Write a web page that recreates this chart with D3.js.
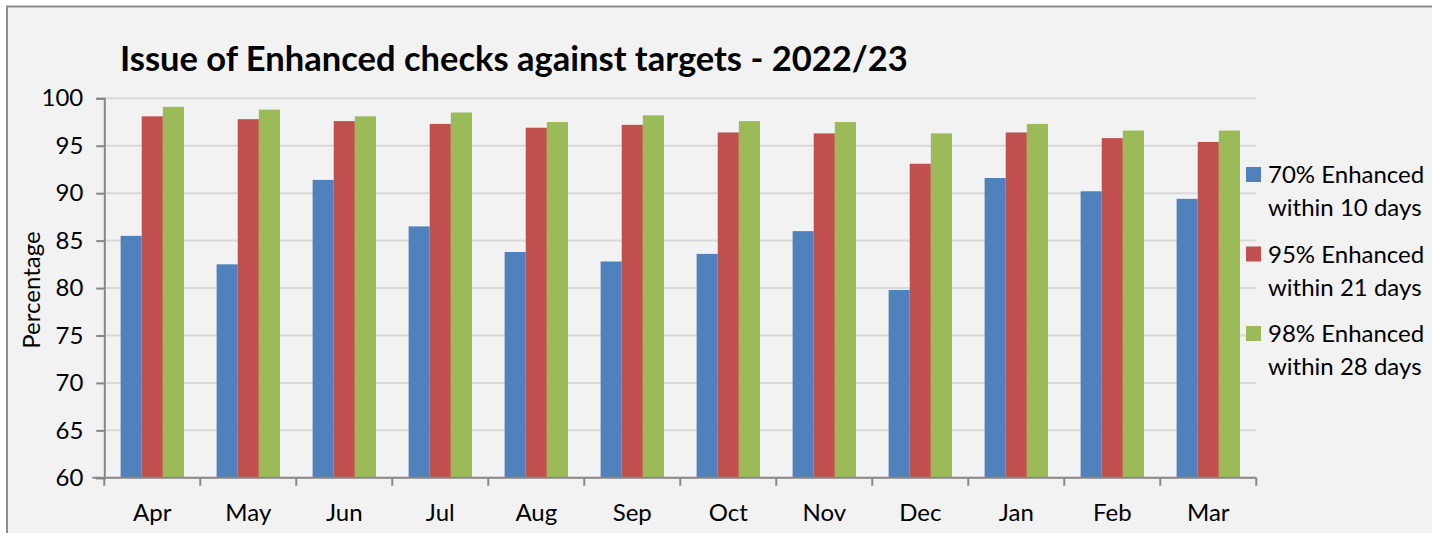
<!DOCTYPE html>
<html>
<head>
<meta charset="utf-8">
<script src="https://cdn.jsdelivr.net/npm/d3@7"></script>
<style>
  html, body { margin: 0; background: #ffffff; overflow: hidden; }
  svg { display: block; font-family: Lato, "Open Sans", sans-serif; }
</style>
</head>
<body>
<svg id="chart" width="1432" height="533"></svg>
<script>
// Chart data
const months = ["Apr", "May", "Jun", "Jul", "Aug", "Sep", "Oct", "Nov", "Dec", "Jan", "Feb", "Mar"];
const within10 = [85.5, 82.5, 91.4, 86.5, 83.8, 82.8, 83.6, 86.0, 79.8, 91.6, 90.2, 89.4];
const within21 = [98.1, 97.8, 97.6, 97.3, 96.9, 97.2, 96.4, 96.3, 93.1, 96.4, 95.8, 95.4];
const within28 = [99.1, 98.8, 98.1, 98.5, 97.5, 98.2, 97.6, 97.5, 96.3, 97.3, 96.6, 96.6];
const seriesNames = [
    ["70% Enhanced", "within 10 days"],
    ["95% Enhanced", "within 21 days"],
    ["98% Enhanced", "within 28 days"]
];
const yTicks = [60, 65, 70, 75, 80, 85, 90, 95, 100];

const colors = ["#4f81bd", "#c0504d", "#9bbb59"];
const allSeries = [within10, within21, within28];

const svg = d3.select("#chart");

// Chart frame (right and bottom edges fall outside the picture)
svg.append("rect")
    .attr("x", 7).attr("y", 6.5)
    .attr("width", 1500).attr("height", 600)
    .attr("fill", "#f2f2f2")
    .attr("stroke", "#8c8c8c")
    .attr("stroke-width", 2);

const plot = { left: 104.3, right: 1256.3, top: 98.3, bottom: 477.8 };

const x = d3.scaleBand()
    .domain(months)
    .range([plot.left, plot.right])
    .paddingInner(0.34)
    .paddingOuter(0.17);

const xs = d3.scaleBand()
    .domain(d3.range(allSeries.length))
    .range([0, x.bandwidth()]);

const y = d3.scaleLinear()
    .domain([60, 100])
    .range([plot.bottom, plot.top]);

// Gridlines
svg.append("g")
    .selectAll("line")
    .data(yTicks.filter(t => t > 60))
    .enter().append("line")
    .attr("x1", plot.left).attr("x2", plot.right)
    .attr("y1", d => y(d)).attr("y2", d => y(d))
    .attr("stroke", "#d9d9d9")
    .attr("stroke-width", 2);

// Bars
const groups = svg.append("g")
    .selectAll("g")
    .data(months)
    .enter().append("g")
    .attr("transform", d => `translate(${x(d)},0)`);

groups.selectAll("rect")
    .data((m, i) => allSeries.map((s, k) => ({ k: k, v: s[i] })))
    .enter().append("rect")
    .attr("x", d => xs(d.k))
    .attr("width", xs.bandwidth())
    .attr("y", d => y(d.v))
    .attr("height", d => y(60) - y(d.v))
    .attr("fill", d => colors[d.k]);

// Y axis
const yAxis = svg.append("g")
    .attr("transform", `translate(${plot.left},0)`)
    .call(d3.axisLeft(y).tickValues(yTicks).tickSize(8).tickPadding(13));
yAxis.select(".domain").attr("stroke", "#868686").attr("stroke-width", 2);
yAxis.selectAll(".tick line").attr("stroke", "#868686").attr("stroke-width", 2);
yAxis.selectAll("text")
    .attr("fill", "#000")
    .style("font-size", "24px")
    .style("font-family", "Lato, sans-serif");

// X axis with ticks between categories
const boundaries = months.map(m => x(m) - x.step() * x.paddingInner() / 2).concat([plot.right]);
const xAxisG = svg.append("g");
xAxisG.append("line")
    .attr("x1", plot.left - 12).attr("x2", plot.right)
    .attr("y1", plot.bottom).attr("y2", plot.bottom)
    .attr("stroke", "#868686").attr("stroke-width", 2);
xAxisG.selectAll(".xtick")
    .data(boundaries)
    .enter().append("line")
    .attr("class", "xtick")
    .attr("x1", d => d).attr("x2", d => d)
    .attr("y1", plot.bottom).attr("y2", plot.bottom + 8)
    .attr("stroke", "#868686").attr("stroke-width", 2);
xAxisG.selectAll(".xlabel")
    .data(months)
    .enter().append("text")
    .attr("class", "xlabel")
    .attr("x", d => x(d) + x.bandwidth() / 2)
    .attr("y", 521)
    .attr("text-anchor", "middle")
    .style("font-size", "24px")
    .text(d => d);

// Y axis title
svg.append("text")
    .attr("transform", `translate(40,${(plot.top + plot.bottom) / 2 + 2}) rotate(-90)`)
    .attr("text-anchor", "middle")
    .style("font-size", "24px")
    .text("Percentage");

// Chart title
svg.append("text")
    .attr("x", 120)
    .attr("y", 71)
    .style("font-size", "34.5px")
    .style("font-weight", "bold")
    .text("Issue of Enhanced checks against targets - 2022/23");

// Legend
const legend = svg.append("g")
    .selectAll("g")
    .data(seriesNames)
    .enter().append("g")
    .attr("transform", (d, i) => `translate(1246,${167 + i * 79.5})`);

legend.append("rect")
    .attr("width", 15).attr("height", 15)
    .attr("fill", (d, i) => colors[i]);

legend.append("text")
    .attr("x", 22)
    .attr("y", 16)
    .style("font-size", "24px")
    .text(d => d[0]);

legend.append("text")
    .attr("x", 22)
    .attr("y", 49)
    .style("font-size", "24px")
    .text(d => d[1]);
</script>
</body>
</html>
